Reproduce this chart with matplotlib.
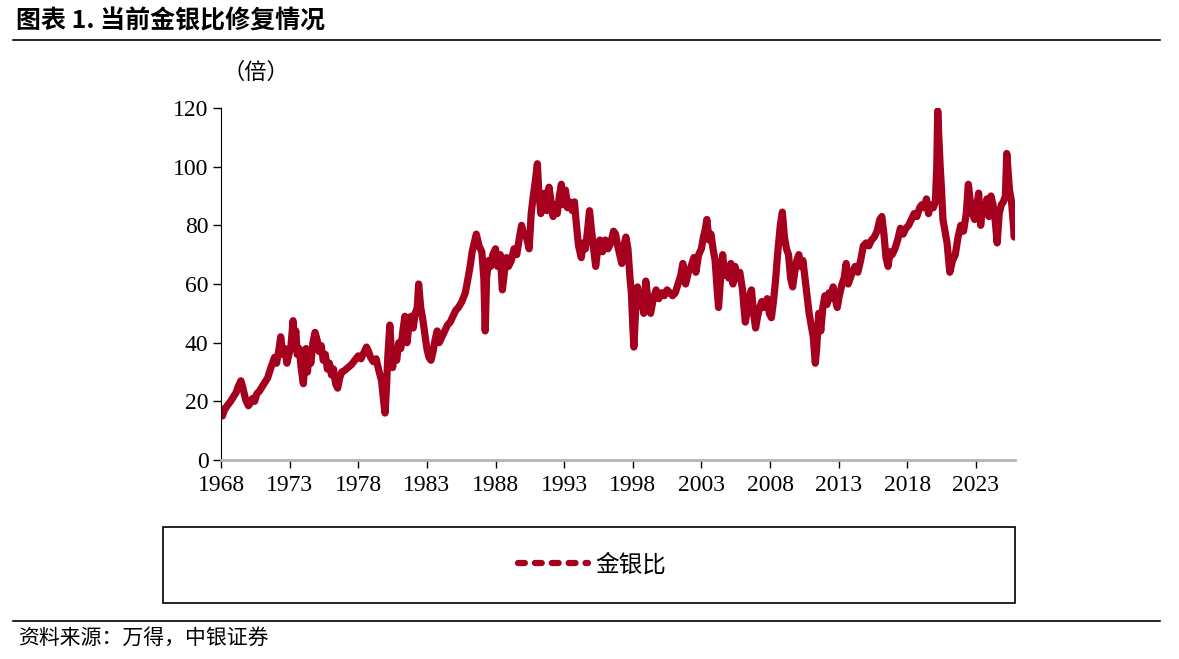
import matplotlib.pyplot as plt
from matplotlib.lines import Line2D
from matplotlib.patches import Rectangle

# gold / silver ratio (decimal year, ratio)
years = [
    1968.00, 1968.10, 1968.25, 1968.45, 1968.70, 1968.90, 1969.10, 1969.25, 1969.45, 1969.60,
    1969.80, 1970.00, 1970.15, 1970.30, 1970.45, 1970.60, 1970.80, 1971.00, 1971.20, 1971.40,
    1971.60, 1971.75, 1971.90, 1972.05, 1972.20, 1972.35, 1972.50, 1972.65, 1972.80, 1972.95,
    1973.10, 1973.25, 1973.35, 1973.45, 1973.55, 1973.70, 1973.85, 1974.00, 1974.10, 1974.20,
    1974.30, 1974.40, 1974.55, 1974.70, 1974.85, 1975.00, 1975.15, 1975.30, 1975.45, 1975.60,
    1975.75, 1975.90, 1976.05, 1976.20, 1976.35, 1976.50, 1976.65, 1976.80, 1977.00, 1977.25,
    1977.50, 1977.75, 1978.00, 1978.20, 1978.40, 1978.60, 1978.75, 1978.90, 1979.10, 1979.30,
    1979.50, 1979.70, 1979.85, 1979.95, 1980.05, 1980.15, 1980.30, 1980.40, 1980.50, 1980.65,
    1980.80, 1980.95, 1981.10, 1981.25, 1981.40, 1981.55, 1981.70, 1981.85, 1982.00, 1982.15,
    1982.30, 1982.40, 1982.55, 1982.70, 1982.85, 1983.00, 1983.15, 1983.30, 1983.45, 1983.60,
    1983.75, 1983.90, 1984.10, 1984.30, 1984.50, 1984.70, 1984.90, 1985.10, 1985.30, 1985.55,
    1985.80, 1986.00, 1986.15, 1986.30, 1986.45, 1986.60, 1986.80, 1987.00, 1987.15, 1987.25,
    1987.35, 1987.50, 1987.65, 1987.80, 1988.00, 1988.15, 1988.35, 1988.50, 1988.65, 1988.80,
    1988.95, 1989.15, 1989.35, 1989.55, 1989.75, 1989.90, 1990.05, 1990.25, 1990.45, 1990.60,
    1990.75, 1990.90, 1991.05, 1991.15, 1991.30, 1991.45, 1991.60, 1991.75, 1991.90, 1992.05,
    1992.20, 1992.35, 1992.50, 1992.65, 1992.80, 1992.95, 1993.10, 1993.25, 1993.40, 1993.60,
    1993.75, 1993.90, 1994.05, 1994.25, 1994.40, 1994.55, 1994.70, 1994.85, 1995.00, 1995.15,
    1995.30, 1995.45, 1995.60, 1995.80, 1996.00, 1996.20, 1996.40, 1996.60, 1996.75, 1996.90,
    1997.05, 1997.20, 1997.35, 1997.50, 1997.65, 1997.80, 1997.90, 1998.00, 1998.08, 1998.20,
    1998.35, 1998.50, 1998.65, 1998.80, 1998.95, 1999.10, 1999.30, 1999.50, 1999.70, 1999.90,
    2000.10, 2000.30, 2000.50, 2000.70, 2000.90, 2001.10, 2001.30, 2001.50, 2001.65, 2001.85,
    2002.05, 2002.25, 2002.45, 2002.60, 2002.80, 2003.00, 2003.15, 2003.30, 2003.40, 2003.55,
    2003.70, 2003.85, 2004.00, 2004.15, 2004.25, 2004.40, 2004.55, 2004.70, 2004.85, 2005.00,
    2005.15, 2005.30, 2005.45, 2005.60, 2005.80, 2006.00, 2006.10, 2006.20, 2006.35, 2006.50,
    2006.65, 2006.80, 2006.95, 2007.10, 2007.25, 2007.40, 2007.60, 2007.80, 2007.95, 2008.10,
    2008.25, 2008.40, 2008.55, 2008.75, 2008.90, 2009.05, 2009.20, 2009.35, 2009.50, 2009.65,
    2009.80, 2009.95, 2010.10, 2010.25, 2010.40, 2010.55, 2010.70, 2010.85, 2011.00, 2011.15,
    2011.30, 2011.40, 2011.55, 2011.70, 2011.85, 2012.00, 2012.15, 2012.30, 2012.45, 2012.60,
    2012.75, 2012.90, 2013.05, 2013.25, 2013.40, 2013.55, 2013.70, 2013.85, 2014.00, 2014.20,
    2014.40, 2014.60, 2014.80, 2015.00, 2015.20, 2015.40, 2015.60, 2015.80, 2016.00, 2016.15,
    2016.30, 2016.45, 2016.60, 2016.75, 2016.90, 2017.10, 2017.30, 2017.50, 2017.70, 2017.90,
    2018.10, 2018.30, 2018.50, 2018.70, 2018.90, 2019.05, 2019.20, 2019.40, 2019.55, 2019.70,
    2019.90, 2020.05, 2020.15, 2020.22, 2020.30, 2020.40, 2020.50, 2020.60, 2020.75, 2020.90,
    2021.00, 2021.10, 2021.30, 2021.50, 2021.70, 2021.90, 2022.10, 2022.30, 2022.45, 2022.60,
    2022.75, 2022.90, 2023.05, 2023.20, 2023.35, 2023.50, 2023.65, 2023.80, 2023.95, 2024.10,
    2024.25, 2024.40, 2024.55, 2024.70, 2024.85, 2025.00, 2025.15, 2025.25, 2025.35, 2025.45,
    2025.60, 2025.70, 2025.80, 2025.85,
]
ratio = [
    17.5, 15, 17, 18.5, 20, 21.5, 23, 25, 27, 24.5,
    20.5, 18.5, 19.5, 21, 20, 22.5, 23.5, 25, 26.5, 28,
    31, 33, 35, 33, 37, 42, 36, 38, 33, 36,
    39, 47.5, 41, 44, 36, 38, 31, 26, 33, 38,
    30, 36, 33, 40, 43.5, 41, 37, 39, 34, 36,
    31, 33, 29, 31, 26, 24.5, 28, 30, 30.5, 31.5,
    32.5, 34, 35.5, 34.5, 36.5, 38.5, 37, 35, 33.5, 34.5,
    30.5, 27, 20, 16, 24, 35, 46, 38, 31.5, 37,
    34, 40, 38, 44, 49, 40, 46, 49, 45, 50,
    52, 60, 52, 48, 43, 38, 35, 34, 37, 41,
    44, 40, 42, 44, 46, 47, 49, 51, 52, 54,
    57, 62, 66, 71, 74, 77, 73, 71, 62, 44,
    62, 68, 66, 70, 72, 66, 70, 58, 64, 69,
    66, 68, 72, 70, 76, 80, 77, 76, 72, 84,
    90, 95, 101, 92, 84, 88, 91, 85, 93, 88,
    83, 87, 84, 90, 94, 87, 92, 86, 88, 85,
    88, 80, 73, 69, 74, 72, 78, 85, 78, 72,
    66, 72, 75, 71, 75, 72, 74, 78, 77, 73,
    70, 67, 73, 76, 72, 62, 57, 46, 38.5, 50,
    59, 53, 56, 50, 61, 55, 50, 55, 58, 55,
    57, 56, 58, 57, 56, 57, 60, 63, 67, 60,
    64, 66, 69, 64, 70, 72, 76, 79, 82, 75,
    77, 72, 68, 58, 52, 62, 70, 63, 66, 62,
    67, 60, 66, 62, 64, 58, 52, 47, 51, 56,
    58, 50, 45, 49, 52, 54, 52, 55, 50, 48.5,
    54, 61, 70, 80, 84.5, 76, 72, 70, 62, 59,
    64, 68, 70, 66, 68, 62, 56, 50, 46, 42,
    33, 38, 50, 44, 52, 56, 53, 57, 55, 59,
    55, 52, 56, 60, 62, 67, 60, 62, 64, 66,
    64, 68, 73, 74, 73, 75, 76, 78, 82, 83,
    77, 69, 66, 71, 70, 72, 75, 79, 77, 79,
    80, 82, 84, 83, 86, 87, 86, 89, 84, 87,
    86, 88, 100, 119, 110, 100, 92, 82, 78, 74,
    69, 64, 68, 70, 76, 80, 78, 84, 94, 88,
    84, 82, 86, 91, 80, 87, 84, 89, 83, 90,
    87, 82, 74, 84, 87, 88, 90, 104.5, 98, 92,
    88, 82, 76, 80,
]

year_ticks = [1968, 1973, 1978, 1983, 1988, 1993, 1998, 2003, 2008, 2013, 2018, 2023]
value_ticks = [0, 20, 40, 60, 80, 100, 120]

red = '#A6001F'
serif = ['Liberation Serif', 'DejaVu Serif']
cjk = ['Noto Sans CJK SC', 'DejaVu Sans']

W, H = 1179, 659
fig = plt.figure(figsize=(W / 100, H / 100), dpi=100)

def fx(px):
    return px / W

def fy(py):
    return 1 - py / H

ax = fig.add_axes([fx(221), fy(460), fx(1015) - fx(221), fy(108) - fy(460)])
ax.plot(years, ratio, color=red, lw=5.2, solid_joinstyle='round', solid_capstyle='round')

ax.set_xlim(1968, 2025.85)
ax.set_ylim(0, 120)
ax.set_xticks(year_ticks)
ax.set_yticks(value_ticks)
ax.set_xticklabels([str(y) for y in year_ticks], family=serif, fontsize=17)
ax.set_yticklabels([str(v) for v in value_ticks], family=serif, fontsize=17)
ax.tick_params(direction='out', length=6, width=1, color='black')
ax.tick_params(axis='x', pad=5)
ax.tick_params(axis='y', pad=3)
for s in ['top', 'right']:
    ax.spines[s].set_visible(False)
ax.spines['left'].set_color('black')
ax.spines['bottom'].set_color('#b3b3b3')
ax.spines['bottom'].set_linewidth(2)

# unit label
fig.text(fx(222), fy(72), '（倍）', family=cjk, fontsize=16, va='center', ha='left')

# title and rules
fig.text(fx(16), fy(21), '图表 1. 当前金银比修复情况', family=cjk, fontsize=18,
         fontweight='bold', va='center', ha='left')
fig.add_artist(Line2D([fx(13), fx(1160)], [fy(40), fy(40)], color='black', lw=1.2))
fig.add_artist(Line2D([fx(13), fx(1160)], [fy(621), fy(621)], color='black', lw=1.2))
fig.text(fx(18), fy(638), '资料来源：万得，中银证券', family=cjk, fontsize=15,
         style='italic', va='center', ha='left')

# legend box
fig.add_artist(Rectangle((fx(163), fy(603)), fx(1015) - fx(163), fy(527) - fy(603),
                         fill=False, edgecolor='black', lw=1.2))
handle = Line2D([], [], color=red, lw=4.5, linestyle=(0, (1.1, 1.6)),
                dash_capstyle='round')
fig.legend(handles=[handle], labels=['金银比'], loc='center',
           bbox_to_anchor=(fx(592), fy(565)), frameon=False, handlelength=3.0,
           handletextpad=0.3, prop={'family': cjk, 'size': 17})

fig.savefig('out.png', dpi=100)
